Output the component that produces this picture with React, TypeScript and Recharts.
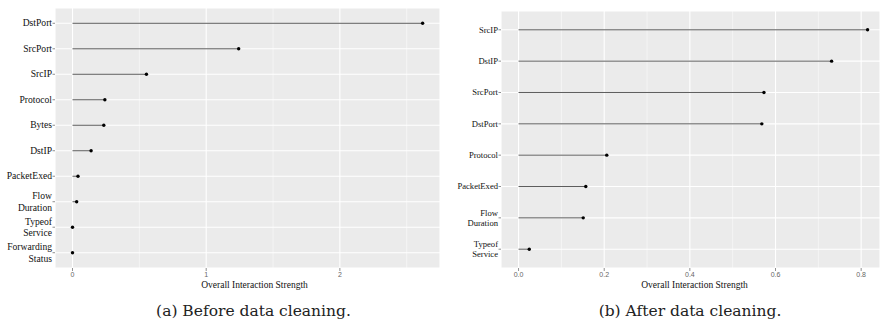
import React from 'react'
import { ScatterChart, Scatter, XAxis, YAxis, CartesianGrid, ReferenceLine, Label } from 'recharts'

// (a) before data cleaning
const beforeNames = ['DstPort', 'SrcPort', 'SrcIP', 'Protocol', 'Bytes', 'DstIP', 'PacketExed', 'Flow\nDuration', 'Typeof\nService', 'Forwarding\nStatus']
const beforeValues = [2.619, 1.243, 0.553, 0.242, 0.234, 0.139, 0.041, 0.031, 0, 0]
const beforeTicks = [0, 1, 2]
const beforeMinor = [0.5, 1.5, 2.5]

// (b) after data cleaning
const afterNames = ['SrcIP', 'DstIP', 'SrcPort', 'DstPort', 'Protocol', 'PacketExed', 'Flow\nDuration', 'Typeof\nService']
const afterValues = [0.815, 0.731, 0.573, 0.568, 0.206, 0.157, 0.151, 0.025]
const afterTicks = [0, 0.2, 0.4, 0.6, 0.8]
const afterMinor = [0.1, 0.3, 0.5, 0.7]

const xTitle = 'Overall Interaction Strength'
const captions = ['(a) Before data cleaning.', '(b) After data cleaning.']

const serif = "'Liberation Serif', 'Times New Roman', serif"

function YTick({ x, y, payload, names, fontSize, lineH }: any) {
  const lines: string[] = (names[payload.value] ?? '').split('\n')
  const n = lines.length
  return (
    <text x={x} y={y} textAnchor="end" style={{ fontFamily: serif, fontSize }} fill="#111">
      {lines.map((l, i) => (
        <tspan key={i} x={x} dy={i === 0 ? -((n - 1) / 2) * lineH + fontSize * 0.33 : lineH}>{l}</tspan>
      ))}
    </text>
  )
}

interface PanelProps {
  names: string[]
  values: number[]
  ticks: number[]
  minor: number[]
  domain: [number, number]
  left: number
  width: number
  top: number
  yWidth: number
  fontSize: number
  lineH: number
  fmt: (v: number) => string
  titleShift: number
}

function Panel({ names, values, ticks, minor, domain, left, width, top, yWidth, fontSize, lineH, fmt, titleShift }: PanelProps) {
  const rows = names.map((name, i) => ({ name, idx: i, value: values[i] }))
  const yTicks = names.map((_, i) => i)
  return (
    <div style={{ position: 'absolute', left, top: 0 }}>
      <ScatterChart width={width} height={300} margin={{ top, right: 0, bottom: 0, left: 0 }}>
        <CartesianGrid fill="#EBEBEB" fillOpacity={1} stroke="#fff" strokeWidth={1.1} />
        {minor.map(m => (
          <ReferenceLine key={'m' + m} x={m} stroke="#fff" strokeWidth={0.5} />
        ))}
        <XAxis
          type="number"
          dataKey="value"
          domain={domain}
          allowDataOverflow
          ticks={ticks}
          tickFormatter={fmt}
          axisLine={false}
          tickLine={{ stroke: '#444', strokeWidth: 0.6 }}
          tickSize={3}
          tickMargin={1}
          height={32}
          tick={{ fontSize: 7, fill: '#666', fontFamily: "'Liberation Sans', sans-serif" }}
        >
          <Label
            content={({ viewBox }: any) => (
              <text
                x={viewBox.x + viewBox.width / 2 + titleShift}
                y={288}
                textAnchor="middle"
                style={{ fontFamily: serif, fontSize: 9.5 }}
                fill="#111"
              >
                {xTitle}
              </text>
            )}
          />
        </XAxis>
        <YAxis
          type="number"
          dataKey="idx"
          domain={[-0.6, names.length - 1 + 0.6]}
          reversed
          ticks={yTicks}
          interval={0}
          axisLine={false}
          tickLine={{ stroke: '#444', strokeWidth: 0.6 }}
          tickSize={2.5}
          tickMargin={0.5}
          width={yWidth}
          tick={<YTick names={names} fontSize={fontSize} lineH={lineH} />}
        />
        {rows.map(r => (
          <ReferenceLine
            key={r.name}
            segment={[{ x: 0, y: r.idx }, { x: r.value, y: r.idx }]}
            stroke="#333"
            strokeWidth={0.8}
          />
        ))}
        <Scatter
          data={rows}
          isAnimationActive={false}
          shape={(p: any) => <circle cx={p.cx} cy={p.cy} r={1.7} fill="#000" />}
        />
      </ScatterChart>
    </div>
  )
}

export default function App() {
  return (
    <div style={{ position: 'absolute', left: 0, top: 0, width: 880, height: 322, background: '#fff', overflow: 'hidden' }}>
      <Panel
        names={beforeNames}
        values={beforeValues}
        ticks={beforeTicks}
        minor={beforeMinor}
        domain={[-0.131, 2.749]}
        left={0}
        width={440}
        top={8}
        yWidth={55}
        fontSize={9.6}
        lineH={11.3}
        fmt={v => String(v)}
        titleShift={7}
      />
      <Panel
        names={afterNames}
        values={afterValues}
        ticks={afterTicks}
        minor={afterMinor}
        domain={[-0.041, 0.844]}
        left={440}
        width={440}
        top={11}
        yWidth={61}
        fontSize={8.6}
        lineH={10.3}
        fmt={v => v.toFixed(1)}
        titleShift={4}
      />
      <svg width={880} height={322} style={{ position: 'absolute', left: 0, top: 0, pointerEvents: 'none' }}>
        <text x={253.5} y={316} textAnchor="middle" style={{ fontFamily: "'DejaVu Serif', serif", fontSize: 15.5 }} fill="#222">
          {captions[0]}
        </text>
        <text x={690} y={316} textAnchor="middle" style={{ fontFamily: "'DejaVu Serif', serif", fontSize: 15.5 }} fill="#222">
          {captions[1]}
        </text>
      </svg>
    </div>
  )
}
